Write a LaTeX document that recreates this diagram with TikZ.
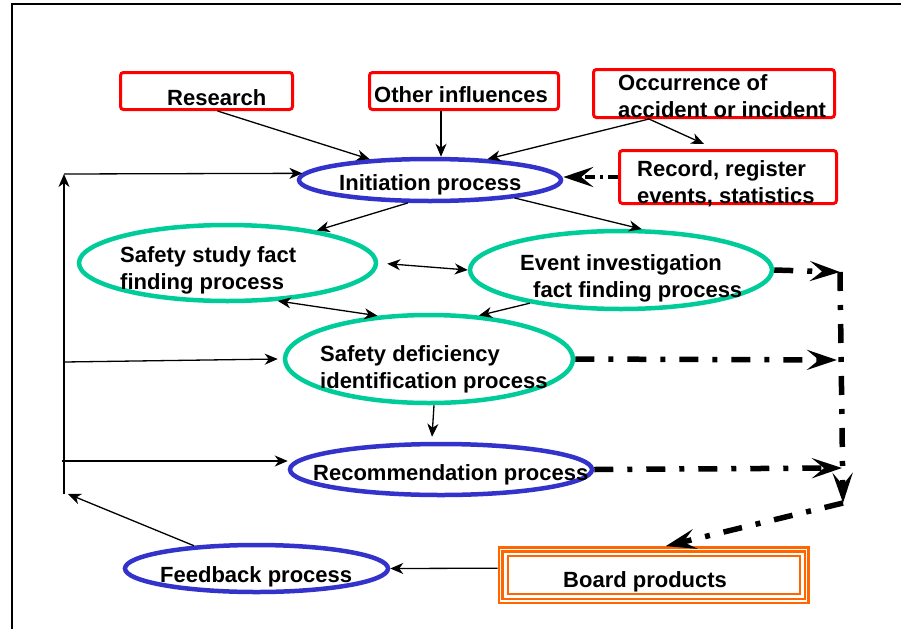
\documentclass[tikz,border=0pt]{standalone}
\usepackage{fontspec}
\setmainfont{Liberation Sans}
\usepackage{tikz}
\usetikzlibrary{shapes.geometric, arrows.meta, calc}
\definecolor{boxred}{RGB}{255, 0, 0}
\definecolor{procblue}{RGB}{51, 51, 204}
\definecolor{procgreen}{RGB}{0, 204, 153}
\definecolor{boardorange}{RGB}{255, 102, 0}

\begin{document}
\begin{tikzpicture}[x=1pt, y=-1pt,
    >={Stealth[length=13pt, width=11pt, inset=4pt]},
    box/.style={rectangle, rounded corners=3pt, draw=boxred, line width=3pt, inner sep=0pt},
    bluep/.style={ellipse, draw=procblue, line width=4.5pt, inner sep=0pt},
    greenp/.style={ellipse, draw=procgreen, line width=4.5pt, inner sep=0pt},
    lbl/.style={anchor=base west, inner sep=0pt, align=left, font=\fontsize{22}{27}\selectfont\bfseries},
    arr/.style={->, line width=1.3pt},
    dbl/.style={<->, line width=1.3pt},
    flow/.style={-{Stealth[length=30pt, width=20pt, inset=12pt]}, line width=5.5pt, dash pattern=on 19pt off 14pt on 5pt off 14pt},
]
    \useasboundingbox (0,0) rectangle (901,629);
    \draw[line width=2pt] (12,629) -- (12,4) -- (901,4);

    % inputs
    \node (research) [box, minimum width=172pt, minimum height=37pt] at (206.5,91) {};
    \node (other) [box, minimum width=189pt, minimum height=37pt] at (464,91) {};
    \node (occ) [box, minimum width=241pt, minimum height=48pt] at (714,93.5) {};
    \node (record) [box, minimum width=217pt, minimum height=53pt] at (728,177) {};
    \node (researchlbl) [lbl] at (167,105) {Research};
    \node (otherlbl) [lbl] at (374,102) {Other influences};
    \node (occlbl) [lbl] at (618,117) {Occurrence of\\accident or incident};
    \node (recordlbl) [lbl] at (637,203) {Record, register\\events, statistics};

    % processes
    \node (init) [bluep, minimum width=262pt, minimum height=42pt] at (430,180) {};
    \node (study) [greenp, minimum width=297pt, minimum height=76pt] at (227.5,263) {};
    \node (event) [greenp, minimum width=302pt, minimum height=78pt] at (621,270) {};
    \node (def) [greenp, minimum width=288pt, minimum height=88pt] at (429,359) {};
    \node (rec) [bluep, minimum width=302pt, minimum height=51pt] at (441,469.5) {};
    \node (fb) [bluep, minimum width=263pt, minimum height=47pt] at (256.5,568.5) {};
    \node (board) [rectangle, draw=boardorange, double=white, line width=2.6pt, double distance=1.2pt,
        outer sep=3.2pt, minimum width=306pt, minimum height=51.7pt] at (653.7,575.2) {};
    \draw[boardorange, line width=2pt] ($(board.north west)+(10.2,10.2)$) rectangle ($(board.south east)+(-10.2,-10.2)$);

    \node (initlbl) [lbl] at (339,190) {Initiation process};
    \node (studylbl) [lbl] at (120,289) {Safety study fact\\finding process};
    \node (eventlbl) [lbl] at (520,297) {Event investigation\\\hspace*{13pt}fact finding process};
    \node (deflbl) [lbl] at (320,388) {Safety deficiency\\identification process};
    \node (reclbl) [lbl] at (313,480) {Recommendation process};
    \node (fblbl) [lbl] at (160,582) {Feedback process};
    \node (boardlbl) [lbl] at (563,587) {Board products};

    \draw[arr] ([xshift=11pt]research.south) -- (init.161);
    \draw[arr] ([xshift=-23pt]other.south) -- ([xshift=11pt]init.north);
    \draw[arr] ([xshift=-65pt]occ.south) -- (init.20);
    \draw[arr] ([xshift=-65pt]occ.south) -- ([xshift=-24pt, yshift=5pt]record.north);
    \draw[flow, line width=4.5pt, dash pattern=on 10pt off 5pt on 3pt off 5pt] (record.west) -- (init.east |- record.west);

    \draw[arr] (init.226) -- (study.20);
    \draw[arr] (init.348) -- (event.63);
    \draw[dbl, shorten <=9pt] (study.east) -- (event.west);
    \draw[dbl] (study.-37) -- (def.140);
    \draw[arr] (event.200) -- (def.41);
    \draw[arr] ([xshift=5pt]def.south) -- ([xshift=-9pt, yshift=5pt]rec.north);

    % feedback loop
    \coordinate (looptop) at (64,174);
    \coordinate (loopdef) at (64,362);
    \coordinate (looprec) at (62,461);
    \coordinate (loopbot) at (64,494);
    \draw[arr] (loopbot) -- (looptop);
    \draw[arr] (looptop) -- (init.177);
    \draw[arr] (loopdef) -- ([xshift=-5pt]def.west);
    \draw[arr] (looprec) -- (looprec -| rec.west);
    \draw[arr] (fb.160) -- ([xshift=4pt]loopbot);
    \draw[arr] ([yshift=7pt]board.west) -- (fb.east);

    % outputs
    \coordinate (outevent) at (840,272);
    \coordinate (outdef) at (837,360);
    \coordinate (outrec) at (842,468);
    \coordinate (outbot) at (843,503);
    \draw[flow] (event.east) -- (outevent);
    \draw[flow] (def.east) -- (outdef);
    \draw[flow] (rec.east) -- (outrec);
    \draw[flow] (outevent) -- (outbot);
    \draw[flow] (outbot) -- ([xshift=12pt]board.north);
\end{tikzpicture}
\end{document}
